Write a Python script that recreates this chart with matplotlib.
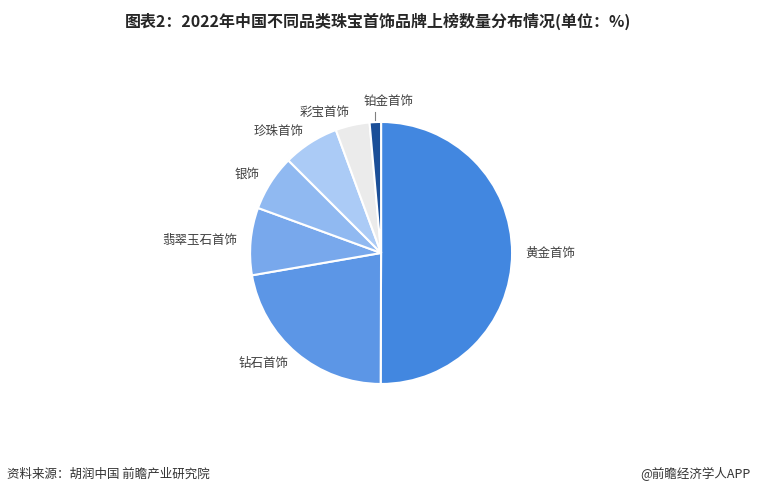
import numpy as np
import matplotlib.pyplot as plt

plt.rcParams['font.family'] = ['Noto Sans CJK SC', 'DejaVu Sans']

# data: brands on list by category (share, %)
categories = ['黄金首饰', '钻石首饰', '翡翠玉石首饰', '银饰', '珍珠首饰', '彩宝首饰', '铂金首饰']
shares = [50.0, 22.2, 8.3, 6.9, 6.9, 4.2, 1.4]
colors = ['#4287e0', '#5c96e6', '#78a8ec', '#90b9f1', '#abcbf6', '#ebebeb', '#1b4f98']

fig = plt.figure(figsize=(7.57, 4.97), dpi=100)
ax = fig.add_axes([0.2957, 0.1747, 0.4154, 0.6326])

labels = categories[:-1] + ['']
wedges, texts = ax.pie(shares, labels=labels, colors=colors, startangle=90,
                       counterclock=False, labeldistance=1.1,
                       wedgeprops=dict(edgecolor='white', linewidth=1.5),
                       textprops=dict(fontsize=9, color='#404040'))
ax.set_xlim(-1.2, 1.2)
ax.set_ylim(-1.2, 1.2)
ax.set_aspect('equal')

# tiny slice: label above with a short vertical leader line
w = wedges[-1]
mid = np.deg2rad((w.theta1 + w.theta2) / 2)
xm = np.cos(mid)
ax.plot([xm, xm], [1.015, 1.076], color='#808080', lw=0.8)
ax.text(xm - 0.09, 1.153, categories[-1], ha='left', va='center',
        fontsize=9, color='#404040')

fig.text(0.5, 0.958, '图表2：2022年中国不同品类珠宝首饰品牌上榜数量分布情况(单位：%)',
         ha='center', va='center', fontsize=11.5, fontweight='bold', color='#262626')
fig.text(0.009, 0.046, '资料来源：胡润中国 前瞻产业研究院', ha='left', va='center',
         fontsize=9, color='#333333')
fig.text(0.992, 0.046, '@前瞻经济学人APP', ha='right', va='center',
         fontsize=9, color='#333333')

plt.savefig('out.png', dpi=100)
